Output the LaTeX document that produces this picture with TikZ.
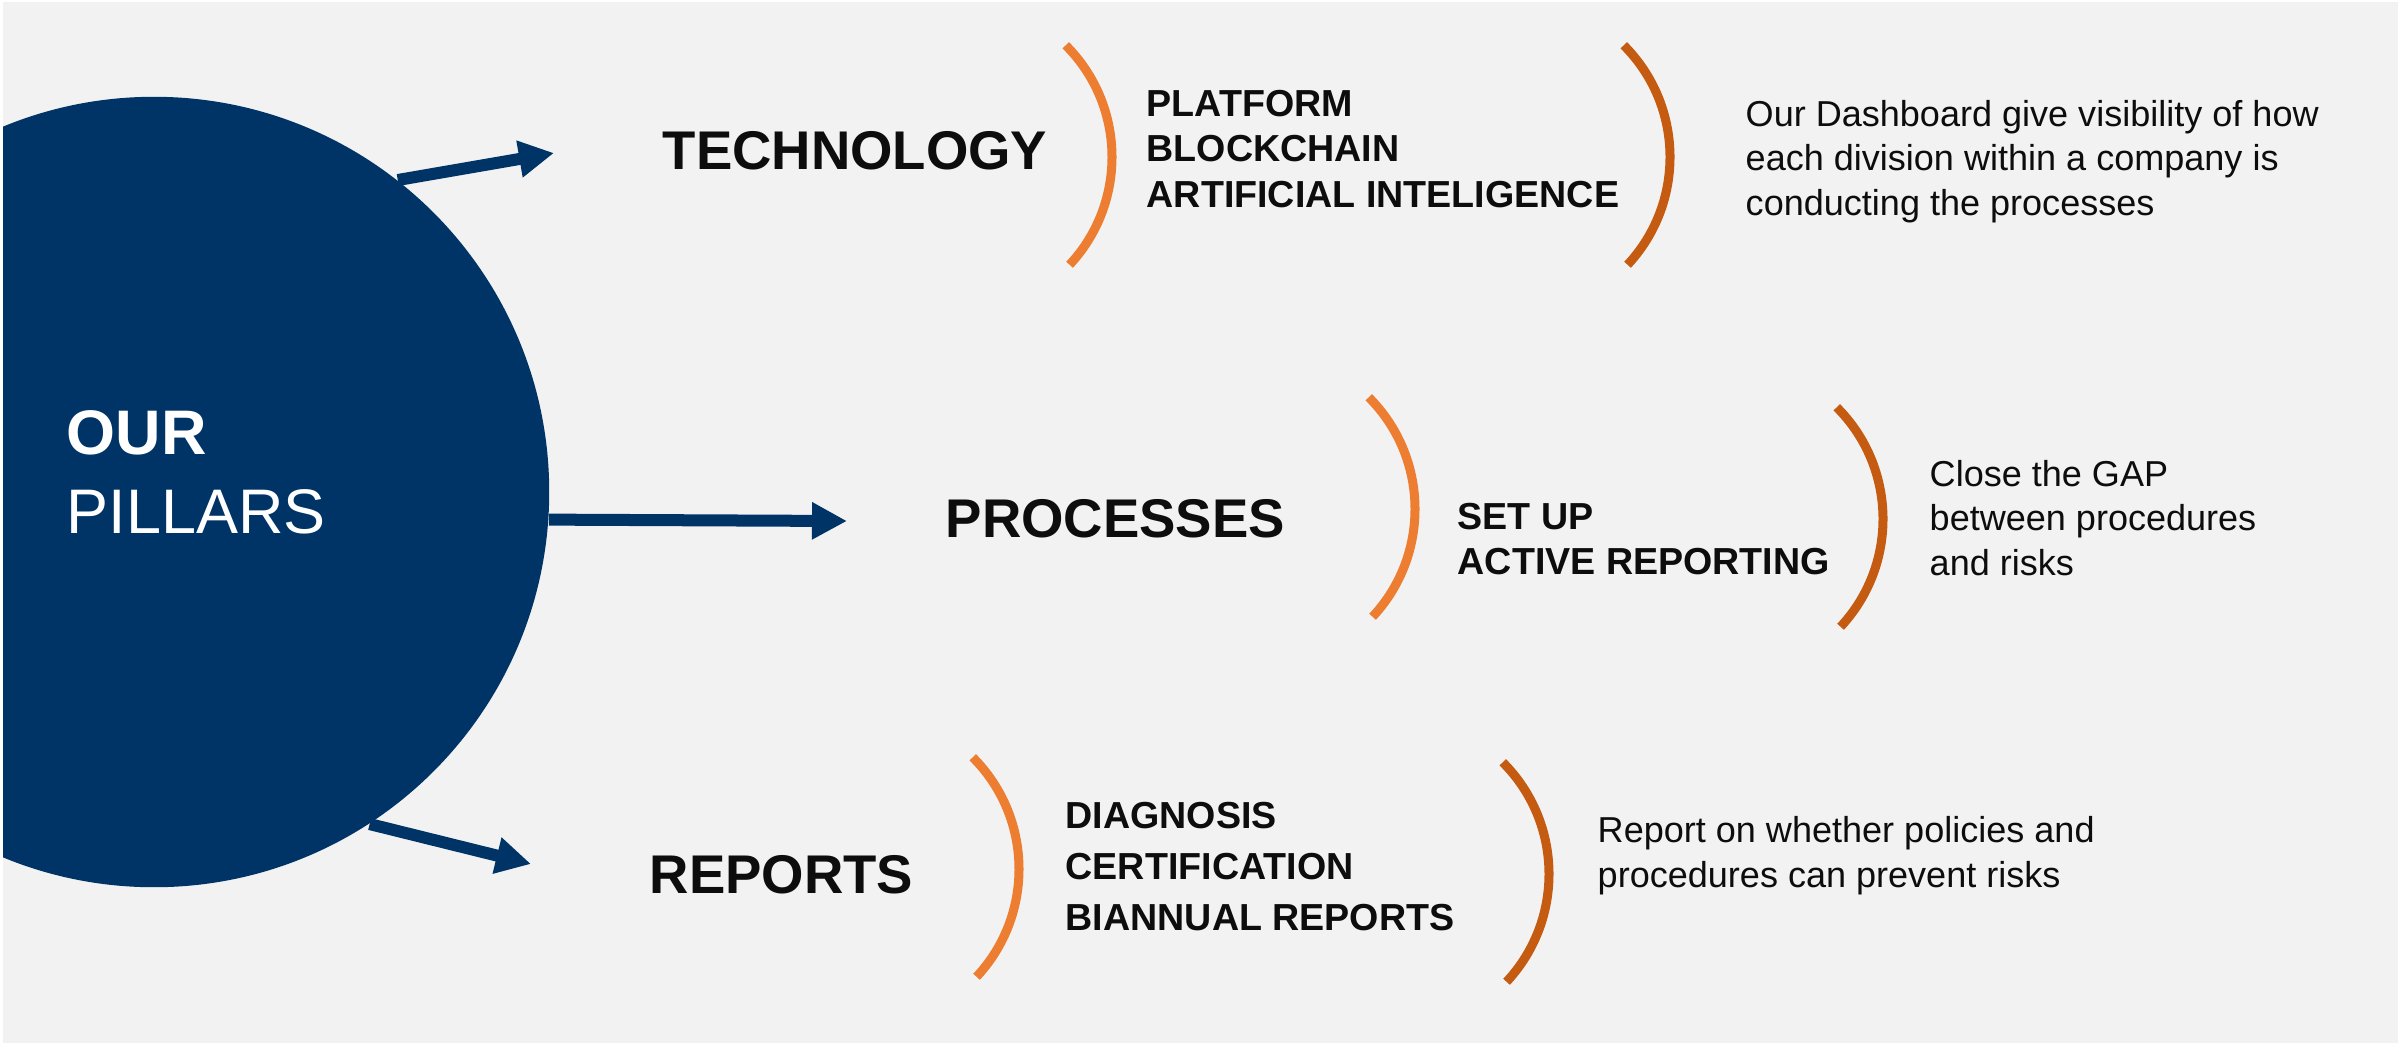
\documentclass[tikz,border=0pt]{standalone}
\usepackage{fontspec}
\setmainfont{Liberation Sans}
\usetikzlibrary{arrows.meta}
\definecolor{navy}{RGB}{0,52,102}
\definecolor{orangeL}{RGB}{237,125,49}
\definecolor{orangeD}{RGB}{197,90,17}
\definecolor{bggray}{RGB}{242,242,242}
\definecolor{ink}{RGB}{13,13,13}
\begin{document}
\begin{tikzpicture}[x=0.01cm,y=-0.01cm,
  bigtxt/.style={font=\fontsize{17.9}{22.2}\selectfont, text=white, anchor=base west, inner sep=0pt, align=left},
  title/.style={font=\fontsize{15.5}{18}\selectfont\bfseries, text=ink, anchor=base west, inner sep=0pt},
  items/.style={font=\fontsize{10.7}{12.8}\selectfont\bfseries, text=ink, anchor=base west, inner sep=0pt, align=left},
  desc/.style={font=\fontsize{10.25}{12.6}\selectfont, text=ink, anchor=base west, inner sep=0pt, align=left},
  pointer/.style={navy, line width=0.12cm, -{Triangle[length=0.35cm,width=0.35cm]}},
  arcL/.style={orangeL, line width=0.09cm},
  arcD/.style={orangeD, line width=0.09cm}]
% background
\fill[white] (0,0) rectangle (2400,1045);
\begin{scope}
  \clip (3,2) rectangle (2398,1043);
  \fill[bggray] (3,2) rectangle (2398,1043);
  \node[circle, fill=navy, minimum size=7.9cm, inner sep=0pt] (pillars) at (154,492) {};
\end{scope}
\node[bigtxt] (pillarstxt) at (66,533) {\textbf{OUR}\\PILLARS};
% arrow ends
\coordinate (t1) at (554,153);
\coordinate (t2) at (847,521);
\coordinate (t3) at (531,864);
\draw[pointer] (pillars.52) -- (t1);
\draw[pointer] (pillars.-4) -- (t2);
\draw[pointer] (pillars.-57) -- (t3);
% titles
\node[title] (tech) at (662,169) {TECHNOLOGY};
\node[title] (proc) at (945,537) {PROCESSES};
\node[title] (rep) at (649,893) {REPORTS};
% arcs
\draw[arcL] (954,157) ++(-45:158) arc[start angle=-45, end angle=43, radius=158];
\draw[arcD] (1512,157) ++(-45:158) arc[start angle=-45, end angle=43, radius=158];
\draw[arcL] (1257,509) ++(-45:158) arc[start angle=-45, end angle=43, radius=158];
\draw[arcD] (1725,519) ++(-45:158) arc[start angle=-45, end angle=43, radius=158];
\draw[arcL] (861,869) ++(-45:158) arc[start angle=-45, end angle=43, radius=158];
\draw[arcD] (1391,874) ++(-45:158) arc[start angle=-45, end angle=43, radius=158];
% items
\node[items] (techitems) at (1146,207) {PLATFORM\\BLOCKCHAIN\\ARTIFICIAL INTELIGENCE};
\node[items] (procitems) at (1457,574) {SET UP\\ACTIVE REPORTING};
\node[items, font=\fontsize{10.7}{14.4}\selectfont\bfseries] (repitems) at (1065,930) {DIAGNOSIS\\CERTIFICATION\\BIANNUAL REPORTS};
% descriptions
\node[desc] (techdesc) at (1745,215) {Our Dashboard give visibility of how\\each division within a company is\\conducting the processes};
\node[desc] (procdesc) at (1929,575) {Close the GAP\\between procedures\\and risks};
\node[desc] (repdesc) at (1597,887) {Report on whether policies and\\procedures can prevent risks};
\end{tikzpicture}
\end{document}
